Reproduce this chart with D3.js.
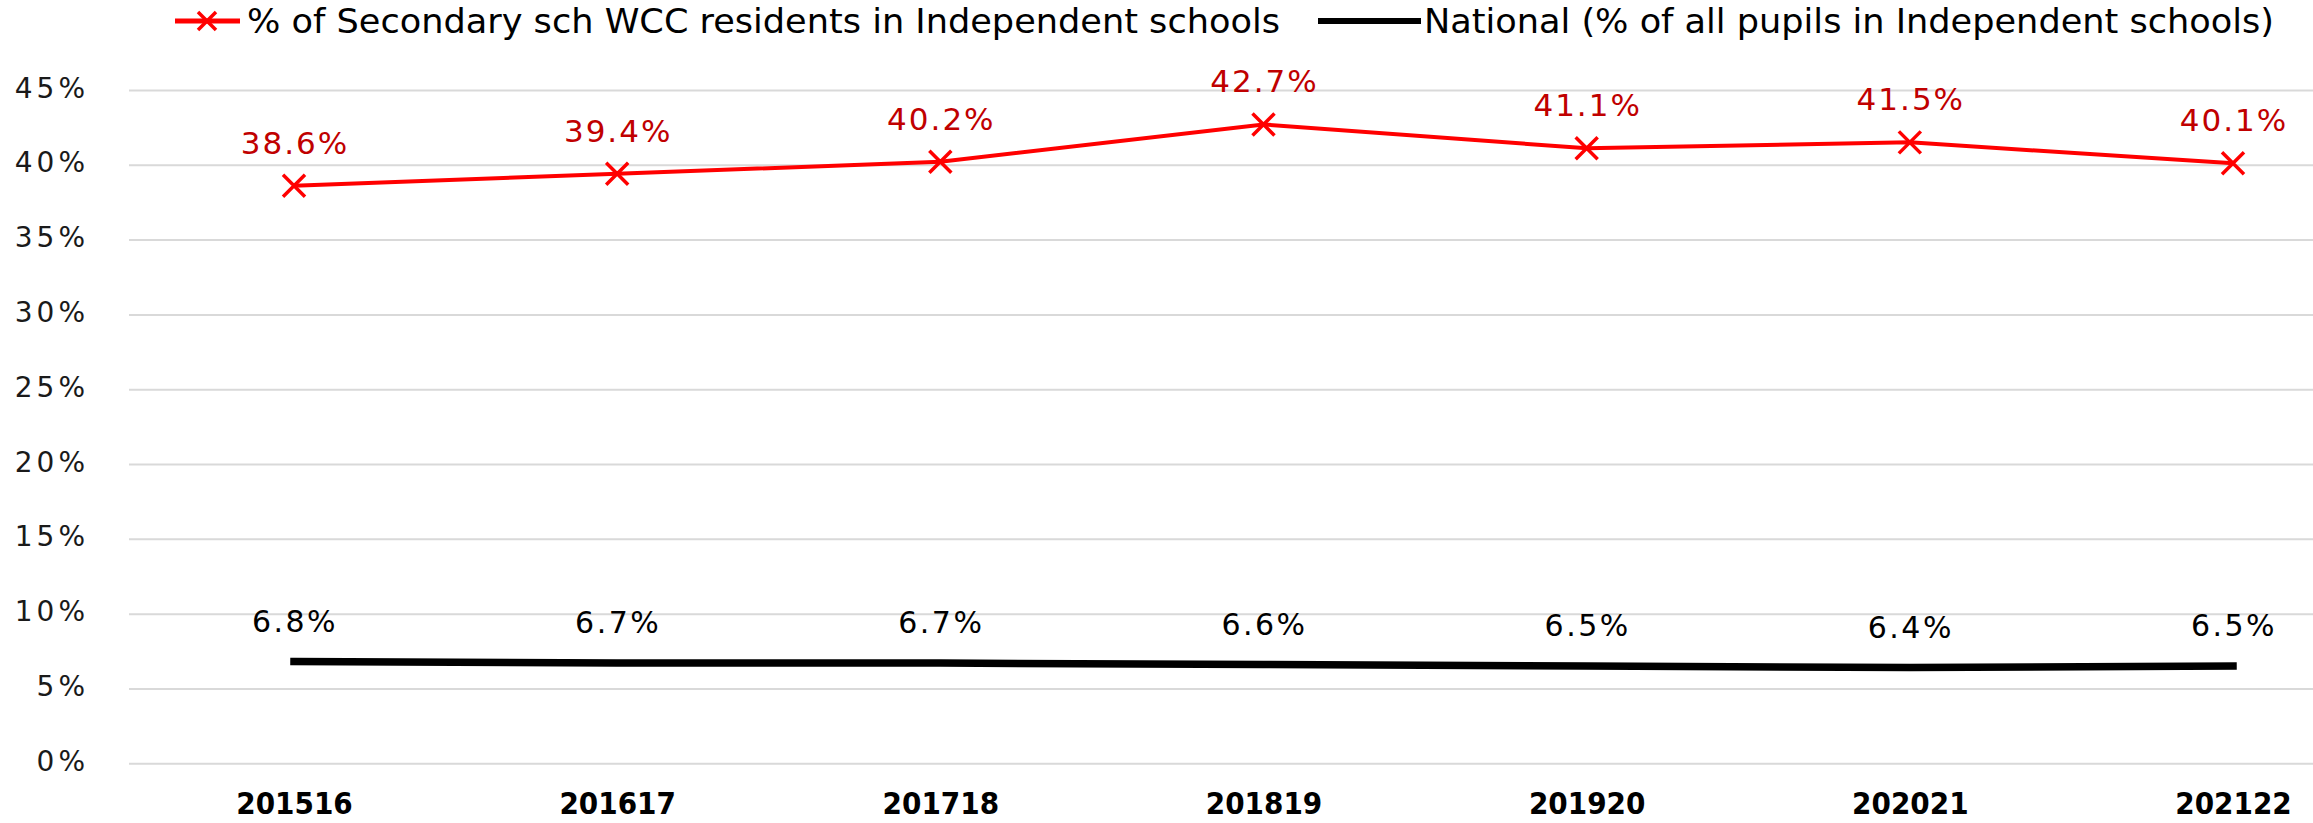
<!DOCTYPE html>
<html>
<head>
<meta charset="utf-8">
<script src="https://cdn.jsdelivr.net/npm/d3@7"></script>
<style>
  html, body { margin: 0; padding: 0; background: #fff; }
  svg { display: block; }
  text { font-family: "DejaVu Sans", sans-serif; }
</style>
</head>
<body>
<svg id="chart" width="2313" height="823"></svg>
<script>
const categories = ["201516", "201617", "201718", "201819", "201920", "202021", "202122"];
const wccValues = [38.6, 39.4, 40.2, 42.7, 41.1, 41.5, 40.1];
const nationalValues = [6.8, 6.7, 6.7, 6.6, 6.5, 6.4, 6.5];
const yTicks = [0, 5, 10, 15, 20, 25, 30, 35, 40, 45];
const seriesNames = ["% of Secondary sch WCC residents in Independent schools",
                     "National (% of all pupils in Independent schools)"];

const svg = d3.select("#chart");
const gridLeft = 129, gridRight = 2313;
const yTop = 90, yBottom = 763.3;

const x = d3.scalePoint().domain(categories).range([294, 2233]);
const y = d3.scaleLinear().domain([0, 45]).range([yBottom, yTop]);

// Y axis with gridlines
const yAxis = d3.axisLeft(y)
  .tickValues(yTicks)
  .tickSize(-(gridRight - gridLeft))
  .tickPadding(44)
  .tickFormat(d => d + "%");
const gy = svg.append("g").attr("transform", `translate(${gridLeft},0)`).call(yAxis);
gy.select(".domain").remove();
gy.selectAll(".tick line").attr("stroke", "#d9d9d9").attr("stroke-width", 2);
gy.selectAll(".tick text")
  .attr("font-size", 28)
  .attr("fill", "#1a1a1a")
  .attr("letter-spacing", 4)
  .attr("dx", 4)
  .attr("dy", "0.25em")
  .style("font-family", '"DejaVu Sans", sans-serif');

// X axis labels
const xAxis = d3.axisBottom(x).tickSize(0).tickPadding(0);
const gx = svg.append("g").attr("transform", `translate(0,${yBottom})`).call(xAxis);
gx.select(".domain").remove();
gx.selectAll(".tick text")
  .attr("y", 51)
  .attr("dy", 0)
  .attr("font-size", 31)
  .attr("font-weight", "bold")
  .attr("fill", "#000")
  .style("font-family", '"DejaVu Sans Condensed", "DejaVu Sans", sans-serif');

// Lines
const line = d3.line().x((d, i) => x(categories[i])).y(d => y(d));
svg.append("path")
  .datum(nationalValues)
  .attr("d", line)
  .attr("fill", "none")
  .attr("stroke", "#000")
  .attr("stroke-width", 7.5)
  .attr("stroke-linecap", "square");

svg.append("path")
  .datum(wccValues)
  .attr("d", line)
  .attr("fill", "none")
  .attr("stroke", "#ff0000")
  .attr("stroke-width", 4);

// X markers
const mk = 11;
const markerPath = `M${-mk},${-mk}L${mk},${mk}M${-mk},${mk}L${mk},${-mk}`;
svg.append("g").selectAll("path")
  .data(wccValues)
  .join("path")
  .attr("transform", (d, i) => `translate(${x(categories[i])},${y(d)})`)
  .attr("d", markerPath)
  .attr("stroke", "#ff0000")
  .attr("stroke-width", 3.5)
  .attr("fill", "none");

// Data labels
svg.append("g").selectAll("text")
  .data(wccValues)
  .join("text")
  .attr("x", (d, i) => x(categories[i]) + 1)
  .attr("y", d => y(d) - 32)
  .attr("text-anchor", "middle")
  .attr("font-size", 31)
  .attr("letter-spacing", 2)
  .attr("fill", "#c00000")
  .text(d => d.toFixed(1) + "%");

svg.append("g").selectAll("text")
  .data(nationalValues)
  .join("text")
  .attr("x", (d, i) => x(categories[i]) + 1)
  .attr("y", d => y(d) - 30)
  .attr("text-anchor", "middle")
  .attr("font-size", 30)
  .attr("letter-spacing", 2.5)
  .attr("fill", "#000")
  .text(d => d.toFixed(1) + "%");

// Legend
const lg = svg.append("g");
const ly = 21;
lg.append("line").attr("x1", 175).attr("x2", 240).attr("y1", ly).attr("y2", ly)
  .attr("stroke", "#ff0000").attr("stroke-width", 5);
lg.append("path").attr("transform", `translate(207,${ly})`).attr("d",
  `M-9,-9L9,9M-9,9L9,-9`).attr("stroke", "#ff0000").attr("stroke-width", 3.5);
lg.append("text").attr("x", 247).attr("y", ly + 12)
  .attr("font-size", 33).attr("fill", "#000")
  .style("font-family", '"DejaVu Sans Condensed", "DejaVu Sans", sans-serif')
  .attr("textLength", 1033).attr("lengthAdjust", "spacingAndGlyphs")
  .text(seriesNames[0]);
lg.append("line").attr("x1", 1318).attr("x2", 1421).attr("y1", ly).attr("y2", ly)
  .attr("stroke", "#000").attr("stroke-width", 6);
lg.append("text").attr("x", 1424).attr("y", ly + 12)
  .attr("font-size", 33).attr("fill", "#000")
  .style("font-family", '"DejaVu Sans Condensed", "DejaVu Sans", sans-serif')
  .attr("textLength", 850).attr("lengthAdjust", "spacingAndGlyphs")
  .text(seriesNames[1]);
</script>
</body>
</html>
